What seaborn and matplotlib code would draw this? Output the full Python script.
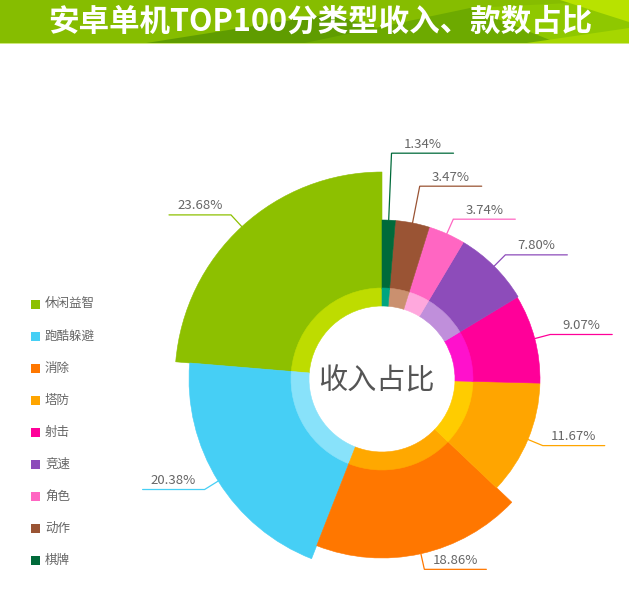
import numpy as np
import pandas as pd
import seaborn as sns
import matplotlib
matplotlib.use("Agg")
import matplotlib.pyplot as plt
from matplotlib.patches import Wedge, Rectangle, Polygon

# ---------------- data ----------------
categories = ["休闲益智", "跑酷躲避", "消除", "塔防", "射击", "竞速", "角色", "动作", "棋牌"]
revenue_share = [23.68, 20.38, 18.86, 11.67, 9.07, 7.80, 3.74, 3.47, 1.34]
# petal length of each category (rose chart)
petal_radius = [207, 193, 179, 158, 158, 159, 159, 159, 159]
title_text = "安卓单机TOP100分类型收入、款数占比"
center_text = "收入占比"

# ---------------- style ----------------
main_colors = ["#8DC000", "#46CFF5", "#FF7700", "#FFA500", "#FF0099",
               "#8D4CBA", "#FF66C2", "#9A5434", "#006A3A"]
light_colors = ["#BEDC00", "#88E2FA", "#FFA800", "#FFCC00", "#FF11CC",
                "#C08FDB", "#FFA8DD", "#CA906F", "#00A580"]

sns.set_theme(style="white")
plt.rcParams["font.family"] = ["Noto Sans CJK SC", "DejaVu Sans"]
palette = sns.color_palette(main_colors)
palette_light = sns.color_palette(light_colors)

df = pd.DataFrame({"cat": categories, "share": revenue_share, "R": petal_radius})
df["span"] = df["share"] / df["share"].sum() * 360.0
df["start"] = 90.0 + df["span"].cumsum() - df["span"]
df["end"] = df["start"] + df["span"]
df["mid"] = (df["start"] + df["end"]) / 2.0

W, H = 629, 598
fig = plt.figure(figsize=(W / 100, H / 100), dpi=100)
ax = fig.add_axes([0, 0, 1, 1])
ax.set_xlim(0, W)
ax.set_ylim(H, 0)
ax.axis("off")

# ---------------- banner ----------------
bh = 44
ax.add_patch(Rectangle((0, 0), W, bh, fc="#86BD00", ec="none", zorder=1))
ax.add_patch(Polygon([(140, bh), (330, 14), (430, bh)], fc="#5F9C00", ec="none", zorder=1))
ax.add_patch(Polygon([(300, bh), (470, 8), (590, bh)], fc="#6DAA00", ec="none", zorder=1))
ax.add_patch(Polygon([(470, 8), (629, 0), (629, 30), (560, bh)], fc="#8FC800", ec="none", zorder=1))
ax.add_patch(Polygon([(560, 0), (629, 0), (629, 22)], fc="#B8E200", ec="none", zorder=1))
ax.add_patch(Polygon([(520, bh), (629, 28), (629, bh)], fc="#A6D600", ec="none", zorder=1))
ax.add_patch(Rectangle((0, bh - 1.5), W, 1.5, fc="#CDE87A", ec="none", zorder=1))
ax.text(320, 22, title_text, color="white", fontsize=22, fontweight="bold",
        ha="center", va="center", zorder=3)

# ---------------- rose pie ----------------
cx, cy = 382, 379
r_hole, r_ring = 73, 91

for i, row in df.iterrows():
    ax.add_patch(Wedge((cx, cy), row["R"], -row["end"], -row["start"],
                       width=row["R"] - r_ring + 1, fc=palette[i], ec=palette[i],
                       lw=0.4, zorder=2))
    ax.add_patch(Wedge((cx, cy), r_ring, -row["end"], -row["start"],
                       width=r_ring - r_hole, fc=palette_light[i], ec=palette_light[i],
                       lw=0.4, zorder=2))

ax.text(cx - 6, cy + 2, center_text, color="#555555", fontsize=21,
        ha="center", va="center", zorder=3)

# ---------------- labels ----------------
elbow_len = 16
hlen = 62
gap = 33
labels = []
for i, row in df.iterrows():
    m = np.deg2rad(row["mid"])
    R = row["R"]
    p0 = np.array([cx + R * np.cos(m), cy - R * np.sin(m)])
    p1 = np.array([cx + (R + elbow_len) * np.cos(m), cy - (R + elbow_len) * np.sin(m)])
    labels.append({"i": i, "m": m, "p0": p0, "p1": p1, "right": np.cos(m) >= 0})

# push right-side labels apart (bottom to top)
right = sorted([l for l in labels if l["right"]], key=lambda l: -l["p1"][1])
prev_y = None
for l in right:
    if prev_y is not None and l["p1"][1] > prev_y - gap:
        new_y = prev_y - gap
        dy = l["p0"][1] - new_y
        dx = dy * np.cos(l["m"]) / max(np.sin(l["m"]), 1e-3)
        l["p1"] = np.array([l["p0"][0] + dx, new_y])
    prev_y = l["p1"][1]

for l in labels:
    i = l["i"]
    col = palette[i]
    p0, p1 = l["p0"], l["p1"]
    x2 = p1[0] + hlen if l["right"] else p1[0] - hlen
    ax.plot([p0[0], p1[0], x2], [p0[1], p1[1], p1[1]], color=col, lw=0.9,
            solid_joinstyle="miter", zorder=2.5)
    ax.text((p1[0] + x2) / 2, p1[1] - 2.5, f"{revenue_share[i]:.2f}%",
            color="#666666", fontsize=9.5, ha="center", va="bottom", zorder=3)

# ---------------- legend ----------------
leg_y0, leg_dy = 304, 32.1
for i, cat in enumerate(categories):
    y = leg_y0 + i * leg_dy
    ax.add_patch(Rectangle((31, y - 4.5), 9, 9, fc=palette[i], ec="none", zorder=3))
    ax.text(45, y, cat, color="#666666", fontsize=9, ha="left", va="center", zorder=3)

fig.savefig("out.png", dpi=100, facecolor="white")
